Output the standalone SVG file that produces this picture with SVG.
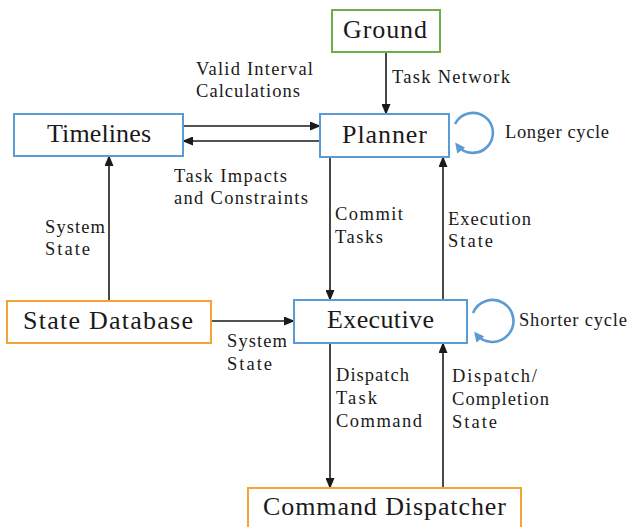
<svg xmlns="http://www.w3.org/2000/svg" width="629" height="527" viewBox="0 0 629 527">
  <style>
    .box { fill: #ffffff; stroke-width: 2; }
    .blue { stroke: #5B9BD5; }
    .green { stroke: #70AD47; }
    .orange { stroke: #F5A236; }
    .wire { fill: none; stroke: #1a1a1a; stroke-width: 1.6; marker-end: url(#head); }
    .cycle { fill: none; stroke: #5B9BD5; stroke-width: 2.6; marker-end: url(#bluehead); }
  </style>
  <defs>
    <marker id="head" markerUnits="userSpaceOnUse" markerWidth="11" markerHeight="9" refX="10" refY="4.5" orient="auto">
      <path d="M0,0 L11,4.5 L0,9 z" fill="#1a1a1a"/>
    </marker>
    <marker id="bluehead" markerUnits="userSpaceOnUse" markerWidth="11" markerHeight="10" refX="7" refY="5" orient="auto">
      <path d="M0,0 L10,5 L0,10 z" fill="#5B9BD5"/>
    </marker>
  </defs>

  <rect width="629" height="527" fill="#ffffff"/>

  <!-- connectors with their labels -->
  <g id="connectors">
    <path class="wire" d="M386,52 V114"/>
    <path class="wire" d="M183,126 H320"/>
    <path class="wire" d="M320,141 H183"/>
    <path class="wire" d="M109,301 V156"/>
    <path class="wire" d="M211,321 H294"/>
    <path class="wire" d="M330,157 V300"/>
    <path class="wire" d="M443,300 V157"/>
    <path class="wire" d="M330,343 V488"/>
    <path class="wire" d="M443,488 V343"/>
    <path class="cycle" d="M455,124 A20,20 0 1 1 457,145"/>
    <path class="cycle" d="M473,313 A21,21 0 1 1 476,334"/>

    <g font-family="Liberation Serif" font-size="18.5" fill="#1a1a1a">
      <text x="392" y="83" textLength="118">Task Network</text>
      <text x="196" y="75" textLength="117">Valid Interval</text>
      <text x="196" y="97" textLength="104">Calculations</text>
      <text x="174" y="182" textLength="113">Task Impacts</text>
      <text x="174" y="204" textLength="134">and Constraints</text>
      <text x="45" y="233" textLength="60">System</text>
      <text x="45" y="255" textLength="45">State</text>
      <text x="227" y="347" textLength="60">System</text>
      <text x="227" y="370" textLength="45">State</text>
      <text x="335" y="220" textLength="68">Commit</text>
      <text x="335" y="243" textLength="48">Tasks</text>
      <text x="448" y="225" textLength="83">Execution</text>
      <text x="448" y="247" textLength="45">State</text>
      <text x="336" y="381" textLength="73">Dispatch</text>
      <text x="336" y="404" textLength="41">Task</text>
      <text x="336" y="427" textLength="86">Command</text>
      <text x="452" y="382" textLength="85">Dispatch/</text>
      <text x="452" y="405" textLength="97">Completion</text>
      <text x="452" y="428" textLength="45">State</text>
      <text x="505" y="138" textLength="104">Longer cycle</text>
      <text x="519" y="326" textLength="108">Shorter cycle</text>
    </g>
  </g>

  <g id="ground">
    <rect class="box green" x="332" y="10" width="108" height="42"/>
    <text font-family="Liberation Serif" font-size="26" fill="#1a1a1a" text-anchor="middle" x="385" y="38" textLength="84">Ground</text>
  </g>
  <g id="planner">
    <rect class="box blue" x="320" y="114" width="129" height="43"/>
    <text font-family="Liberation Serif" font-size="26" fill="#1a1a1a" text-anchor="middle" x="384.5" y="143" textLength="85">Planner</text>
  </g>
  <g id="timelines">
    <rect class="box blue" x="14" y="114" width="169" height="42"/>
    <text font-family="Liberation Serif" font-size="26" fill="#1a1a1a" text-anchor="middle" x="99" y="142" textLength="104">Timelines</text>
  </g>
  <g id="state-database">
    <rect class="box orange" x="7" y="301" width="204" height="42"/>
    <text font-family="Liberation Serif" font-size="26" fill="#1a1a1a" text-anchor="middle" x="108" y="329" textLength="170">State Database</text>
  </g>
  <g id="executive">
    <rect class="box blue" x="294" y="300" width="173" height="43"/>
    <text font-family="Liberation Serif" font-size="26" fill="#1a1a1a" text-anchor="middle" x="380.5" y="328" textLength="107">Executive</text>
  </g>
  <g id="command-dispatcher">
    <rect class="box orange" x="248" y="488" width="273" height="46"/>
    <text font-family="Liberation Serif" font-size="26" fill="#1a1a1a" text-anchor="middle" x="384.5" y="515" textLength="243">Command Dispatcher</text>
  </g>
</svg>
